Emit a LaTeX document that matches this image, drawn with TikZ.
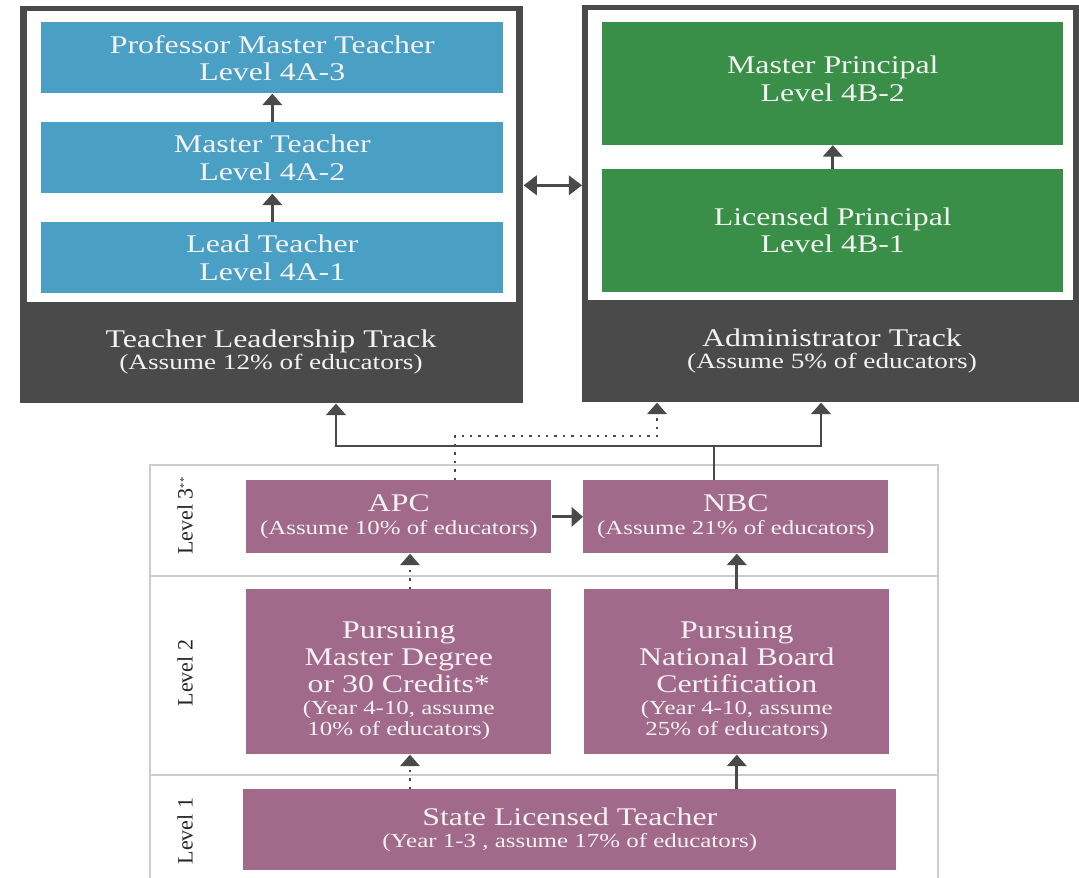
\documentclass[tikz,border=0pt]{standalone}
\usepackage{fontspec}
\setmainfont[FakeStretch=1.25]{Liberation Serif}
\newfontfamily\lvlfont{Liberation Serif}
\usetikzlibrary{arrows.meta}

\definecolor{trackgray}{HTML}{4A4A4A}
\definecolor{teachblue}{HTML}{4AA0C4}
\definecolor{adminGreen}{HTML}{3A8F48}
\definecolor{levelpink}{HTML}{A26A8A}
\definecolor{boxtext}{HTML}{F2F2F2}
\definecolor{frameline}{HTML}{CCCCCC}

\newcommand{\boxfont}{\fontsize{14.5}{15.5}\selectfont}
\newcommand{\notefont}{\fontsize{11.35}{12}\selectfont}
\newcommand{\tracknote}{\fontsize{12.4}{13}\selectfont}

\tikzset{
  box/.style={rectangle, inner sep=0pt, anchor=north west, align=center,
    text=boxtext, font=\boxfont},
  trackbox/.style={box, fill=trackgray, minimum width=10.06cm, minimum height=7.94cm},
  innerbox/.style={box, fill=white, minimum height=5.82cm},
  bluebox/.style={box, fill=teachblue, minimum width=9.24cm, minimum height=1.42cm},
  greenbox/.style={box, fill=adminGreen, minimum width=9.22cm, minimum height=2.45cm},
  pinkbox/.style={box, fill=levelpink, minimum width=6.10cm},
  tracklabel/.style={align=center, text=boxtext, font=\boxfont, inner sep=0pt},
  lvl/.style={rotate=90, font=\lvlfont\fontsize{12.5}{14}\selectfont, text=black!85, inner sep=0pt},
  lvlline/.style={draw=frameline, line width=0.6pt},
  flow/.style={draw=trackgray, line width=1.6pt},
  up/.style={flow, -{Triangle[width=11pt,length=6.5pt]}},
  dbl/.style={flow, {Triangle[width=11pt,length=7.5pt]}-{Triangle[width=11pt,length=7.5pt]}},
  dotup/.style={up, line width=1.4pt, dash pattern=on 1.4pt off 3.4pt}
}

\begin{document}
\begin{tikzpicture}[x=0.02cm, y=-0.02cm]
  \useasboundingbox (0,0) rectangle (1079,878);

  % teacher leadership track
  \node[trackbox] (trackL) at (20,6) {};
  \node[innerbox, minimum width=9.78cm] (trackLin) at (27,11) {};
  \node[bluebox] (pmt) at (41,22) {Professor Master Teacher\\Level 4A-3};
  \node[bluebox] (mt) at (41,122) {Master Teacher\\Level 4A-2};
  \node[bluebox] (lt) at (41,222) {Lead Teacher\\Level 4A-1};
  \node[tracklabel] (trackLtxt) at (271,352)
    {Teacher Leadership Track\\[-2.8pt]\tracknote (Assume 12\% of educators)};
  \draw[up] (lt.north) -- (mt.south);
  \draw[up] (mt.north) -- (pmt.south);

  % administrator track
  \node[trackbox, minimum width=9.94cm] (trackR) at (582,5) {};
  \node[innerbox, minimum width=9.70cm, minimum height=5.80cm] (trackRin) at (588,10) {};
  \node[greenbox] (mp) at (602,22) {Master Principal\\Level 4B-2\\[-10pt]};
  \node[greenbox] (lp) at (602,169) {Licensed Principal\\Level 4B-1};
  \node[tracklabel] (trackRtxt) at (832,351)
    {Administrator Track\\[-2.8pt]\tracknote (Assume 5\% of educators)};
  \draw[up] (lp.north) -- (mp.south);

  \coordinate (dblL) at ([yshift=0.39cm]trackL.east);
  \draw[dbl] (dblL) -- (dblL -| trackR.west);

  % levels frame
  \draw[lvlline] (150,878) -- (150,465) -- (938,465) -- (938,878);
  \draw[lvlline] (150,576) -- (938,576);
  \draw[lvlline] (150,775) -- (938,775);
  \node[lvl] (lv3) at (185,516) {Level 3\raisebox{3pt}{\fontsize{6}{6}\selectfont**}};
  \node[lvl] (lv2) at (185,673) {Level 2};
  \node[lvl] (lv1) at (185,831) {Level 1};

  % level boxes
  \node[pinkbox, minimum height=1.46cm] (apc) at (246,480)
    {APC\\[-2.8pt]\notefont (Assume 10\% of educators)};
  \node[pinkbox, minimum height=1.46cm] (nbc) at (583,480)
    {NBC\\[-2.8pt]\notefont (Assume 21\% of educators)};
  \node[pinkbox, minimum height=3.30cm] (pmd) at (246,589)
    {Pursuing\\Master Degree\\or 30 Credits*\\[-2.8pt]\notefont (Year 4-10, assume\\[-3.6pt]\notefont 10\% of educators)\\[-23pt]};
  \node[pinkbox, minimum height=3.30cm] (pnb) at (584,589)
    {Pursuing\\National Board\\Certification\\[-2.8pt]\notefont (Year 4-10, assume\\[-3.6pt]\notefont 25\% of educators)\\[-23pt]};
  \node[pinkbox, minimum width=13.06cm, minimum height=1.62cm] (slt) at (243,789)
    {State Licensed Teacher\\[-3pt]\notefont (Year 1-3 , assume 17\% of educators)};

  \coordinate (dotX) at (410,0);
  \draw[up] (apc.east) -- (nbc.west);
  \draw[dotup] (pmd.north -| dotX) -- (apc.south -| dotX);
  \draw[up] (pnb.north) -- (pnb.north |- nbc.south);
  \draw[dotup] (slt.north -| dotX) -- (pmd.south -| dotX);
  \draw[up] (slt.north -| pnb.south) -- (pnb.south);

  % paths up to the tracks
  \coordinate (busN) at (714,446);
  \coordinate (busL) at (336,446);
  \coordinate (busR) at (821,446);
  \draw[flow] (nbc.north -| busN) -- (busN);
  \draw[up] (busN) -- (busL) -- (busL |- trackL.south);
  \draw[up] (busN) -- (busR) -- (busR |- trackR.south);

  \coordinate (dotL) at (455,436);
  \coordinate (dotR) at (657,436);
  \draw[dotup] (apc.north -| dotL) -- (dotL) -- (dotR) -- (dotR |- trackR.south);
\end{tikzpicture}
\end{document}
